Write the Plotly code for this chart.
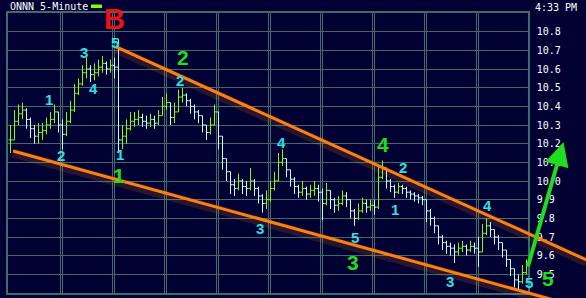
import plotly.graph_objects as go

# ---------------- data ----------------
closes = [10.22, 10.32, 10.36, 10.38, 10.33, 10.28, 10.24, 10.26, 10.27, 10.30,
          10.33, 10.37, 10.30, 10.25, 10.32, 10.38, 10.47, 10.52, 10.58, 10.60,
          10.57, 10.58, 10.61, 10.63, 10.60, 10.62, 10.61, 10.22, 10.24, 10.28,
          10.32, 10.33, 10.34, 10.32, 10.31, 10.33, 10.31, 10.35, 10.40, 10.42,
          10.34, 10.37, 10.45, 10.46, 10.43, 10.40, 10.37, 10.35, 10.30, 10.26,
          10.30, 10.37, 10.24, 10.12, 10.05, 9.98, 9.96, 10.00, 9.97, 9.96,
          10.00, 9.96, 9.92, 9.88, 9.90, 9.96, 10.00, 10.10, 10.12, 10.06,
          10.01, 9.97, 9.94, 9.96, 9.93, 9.95, 9.96, 9.94, 9.88, 9.95,
          9.90, 9.87, 9.88, 9.92, 9.90, 9.84, 9.80, 9.84, 9.88, 9.86,
          9.87, 9.86, 10.02, 10.07, 10.00, 9.97, 9.94, 9.97, 9.96, 9.94,
          9.93, 9.92, 9.91, 9.90, 9.84, 9.80, 9.76, 9.70, 9.67, 9.65,
          9.64, 9.62, 9.64, 9.65, 9.63, 9.65, 9.64, 9.62, 9.72, 9.76,
          9.74, 9.70, 9.67, 9.63, 9.58, 9.53, 9.47, 9.46, 9.51, 9.55]
highs = [10.30, 10.38, 10.41, 10.42, 10.39, 10.34, 10.30, 10.31, 10.31, 10.34,
         10.37, 10.41, 10.37, 10.33, 10.37, 10.43, 10.52, 10.55, 10.62, 10.66,
         10.62, 10.63, 10.65, 10.67, 10.64, 10.65, 10.66, 10.76, 10.30, 10.33,
         10.37, 10.37, 10.38, 10.36, 10.35, 10.36, 10.35, 10.38, 10.45, 10.47,
         10.42, 10.42, 10.49, 10.50, 10.47, 10.44, 10.41, 10.38, 10.35, 10.30,
         10.34, 10.41, 10.37, 10.24, 10.12, 10.05, 10.01, 10.04, 10.01, 10.00,
         10.07, 10.01, 9.97, 9.93, 9.95, 10.00, 10.05, 10.15, 10.17, 10.12,
         10.06, 10.02, 9.98, 10.00, 9.97, 9.98, 10.00, 9.98, 9.96, 9.99,
         9.95, 9.91, 9.92, 9.95, 9.94, 9.90, 9.85, 9.88, 9.91, 9.90,
         9.90, 9.90, 10.08, 10.11, 10.07, 10.01, 9.98, 9.99, 9.98, 9.97,
         9.95, 9.94, 9.93, 9.92, 9.90, 9.85, 9.81, 9.76, 9.71, 9.68,
         9.67, 9.66, 9.67, 9.68, 9.66, 9.68, 9.67, 9.70, 9.77, 9.80,
         9.78, 9.74, 9.71, 9.67, 9.63, 9.58, 9.53, 9.50, 9.55, 9.58]
lows = [10.15, 10.22, 10.30, 10.33, 10.28, 10.23, 10.20, 10.20, 10.22, 10.25,
        10.28, 10.31, 10.26, 10.17, 10.24, 10.31, 10.37, 10.46, 10.51, 10.55,
        10.53, 10.54, 10.56, 10.58, 10.57, 10.58, 10.55, 10.15, 10.17, 10.20,
        10.27, 10.29, 10.30, 10.29, 10.28, 10.29, 10.28, 10.30, 10.35, 10.38,
        10.30, 10.31, 10.37, 10.42, 10.40, 10.36, 10.33, 10.31, 10.26, 10.22,
        10.25, 10.30, 10.17, 10.06, 10.00, 9.93, 9.92, 9.95, 9.93, 9.92,
        9.95, 9.92, 9.88, 9.83, 9.85, 9.89, 9.95, 10.00, 10.08, 10.02,
        9.97, 9.93, 9.91, 9.92, 9.90, 9.91, 9.92, 9.89, 9.79, 9.87,
        9.85, 9.83, 9.84, 9.87, 9.86, 9.80, 9.76, 9.79, 9.83, 9.83,
        9.84, 9.82, 9.85, 10.01, 9.96, 9.94, 9.91, 9.93, 9.93, 9.91,
        9.90, 9.89, 9.88, 9.87, 9.78, 9.76, 9.72, 9.66, 9.63, 9.61,
        9.60, 9.56, 9.60, 9.62, 9.60, 9.62, 9.61, 9.54, 9.62, 9.71,
        9.70, 9.66, 9.63, 9.59, 9.54, 9.49, 9.43, 9.42, 9.45, 9.50]
opens = [closes[0]] + closes[:-1]          # each bar opens at the prior close
bars = list(range(len(closes)))

day_breaks = [12.5, 25.5, 38.5, 51.5, 64.5, 77.5, 90.5, 103.5, 116.5]
price_ticks = [9.4, 9.5, 9.6, 9.7, 9.8, 9.9, 10.0, 10.1, 10.2, 10.3, 10.4, 10.5, 10.6, 10.7, 10.8]

# trend lines (bar index, price)
upper_x = [26.25, 144.0]
upper_y = [10.72, 9.577]
lower_x = [0.625, 144.0]
lower_y = [10.161, 9.314]

# wave labels: (bar index, price, text)
cyan_labels = [(9.5, 10.439, "1"), (12.5, 10.139, "2"), (18.25, 10.691, "3"),
               (20.75, 10.498, "4"), (26.0, 10.742, "5"), (27.25, 10.142, "1"),
               (42.25, 10.541, "2"), (62.25, 9.748, "3"), (67.75, 10.204, "4"),
               (86.0, 9.700, "5"), (96.0, 9.845, "1"), (98.0, 10.075, "2"),
               (109.75, 9.459, "3"), (119.25, 9.871, "4"), (129.6, 9.454, "5")]
green_labels = [(27.0, 10.030, "1"), (43.0, 10.659, "2"), (85.5, 9.561, "3"),
                (93.0, 10.193, "4"), (134.3, 9.478, "5")]
red_labels = [(26.0, 10.869, "B")]
arrow_tail = (129.25, 9.534)
arrow_head = (138.25, 10.209)

# ---------------- layout geometry ----------------
W, H = 586, 298
PL, PR, PT, PB = 8, 528, 13, 293       # plot box in pixels
YLO, YHI = 9.4, 10.9
XLO, XHI = -0.625, 129.375
px_per_bar = (PR - PL) / (XHI - XLO)
px_per_usd = (PB - PT) / (YHI - YLO)
x2_range = [XLO - PL / px_per_bar, XHI + (W - PR) / px_per_bar]
y2_range = [YLO - (H - PB) / px_per_usd, YHI + PT / px_per_usd]

BG = "#000033"
GRID = "#3c6e69"
ORANGE = "#ff8010"
CYAN = "#2ee0e0"
GREEN = "#1edc1e"
MONO = "DejaVu Sans Mono"
SANS = "Liberation Sans"

fig = go.Figure()
fig.add_trace(go.Ohlc(
    x=bars, open=opens, high=highs, low=lows, close=closes,
    increasing=dict(line=dict(color="#80ff00", width=1)),
    decreasing=dict(line=dict(color="#c0ffff", width=1)),
    tickwidth=0.5, showlegend=False, hoverinfo="skip",
    xaxis="x", yaxis="y"))

for lx, ly in ((upper_x, upper_y), (lower_x, lower_y)):
    fig.add_trace(go.Scatter(x=lx, y=[v - 0.012 for v in ly], mode="lines",
                             line=dict(color="rgba(255,128,16,0.16)", width=9),
                             showlegend=False, hoverinfo="skip", xaxis="x2", yaxis="y2"))
    fig.add_trace(go.Scatter(x=lx, y=ly, mode="lines",
                             line=dict(color=ORANGE, width=3),
                             showlegend=False, hoverinfo="skip", xaxis="x2", yaxis="y2"))

annotations = []
for bx, by, t in cyan_labels:
    annotations.append(dict(x=bx, y=by, xref="x2", yref="y2", text="<b>%s</b>" % t,
                            showarrow=False, font=dict(family=SANS, size=15, color=CYAN)))
for bx, by, t in green_labels:
    annotations.append(dict(x=bx, y=by, xref="x2", yref="y2", text="<b>%s</b>" % t,
                            showarrow=False, font=dict(family=SANS, size=21, color=GREEN)))
for bx, by, t in red_labels:
    annotations.append(dict(x=bx, y=by, xref="x2", yref="y2", text="<b>%s</b>" % t,
                            showarrow=False, font=dict(family=SANS, size=29, color="#ee1111")))
annotations.append(dict(x=arrow_head[0], y=arrow_head[1], ax=arrow_tail[0], ay=arrow_tail[1],
                        xref="x2", yref="y2", axref="x2", ayref="y2", text="",
                        showarrow=True, arrowhead=2, arrowsize=1.2, arrowwidth=4,
                        arrowcolor=GREEN))
annotations.append(dict(x=PL / W, y=1 - 6.5 / H, xref="paper", yref="paper",
                        xanchor="left", yanchor="middle", text="ONNN 5-Minute",
                        showarrow=False, font=dict(family=MONO, size=10, color="white")))
annotations.append(dict(x=533 / W, y=1 - 7 / H, xref="paper", yref="paper",
                        xanchor="left", yanchor="middle", text="4:33 PM",
                        showarrow=False, font=dict(family=MONO, size=10, color="white")))

fig.update_layout(
    width=W, height=H, autosize=False,
    margin=dict(l=0, r=0, t=0, b=0, pad=0),
    paper_bgcolor=BG, plot_bgcolor="rgba(0,0,0,0)",
    showlegend=False,
    annotations=annotations,
    shapes=[dict(type="rect", xref="paper", yref="paper",
                 x0=91 / W, x1=102 / W, y0=1 - 8 / H, y1=1 - 4.5 / H,
                 fillcolor="#80ff00", line=dict(width=0))],
    xaxis=dict(domain=[PL / W, PR / W], range=[XLO, XHI], anchor="y",
               rangeslider=dict(visible=False), showticklabels=False,
               tickmode="array", tickvals=day_breaks, ticks="",
               showgrid=True, gridcolor=GRID, gridwidth=1, zeroline=False,
               minor=dict(tickmode="array", tickvals=[d + 0.4 for d in day_breaks],
                          showgrid=True, gridcolor=GRID, gridwidth=1, ticks=""),
               showline=True, mirror=True, linecolor=GRID, linewidth=1.5),
    yaxis=dict(domain=[(H - PB) / H, (H - PT) / H], range=[YLO, YHI], anchor="x",
               side="right", tickmode="array", tickvals=price_ticks,
               ticktext=["%.1f" % v for v in price_ticks], ticks="",
               ticklabelstandoff=5,
               tickfont=dict(family=MONO, size=10, color="white"),
               showgrid=True, gridcolor=GRID, gridwidth=1, zeroline=False,
               showline=True, mirror=True, linecolor=GRID, linewidth=1.5),
    xaxis2=dict(domain=[0, 1], range=x2_range, anchor="y2", visible=False),
    yaxis2=dict(domain=[0, 1], range=y2_range, anchor="x2", visible=False),
)

fig.write_html("out.html")
